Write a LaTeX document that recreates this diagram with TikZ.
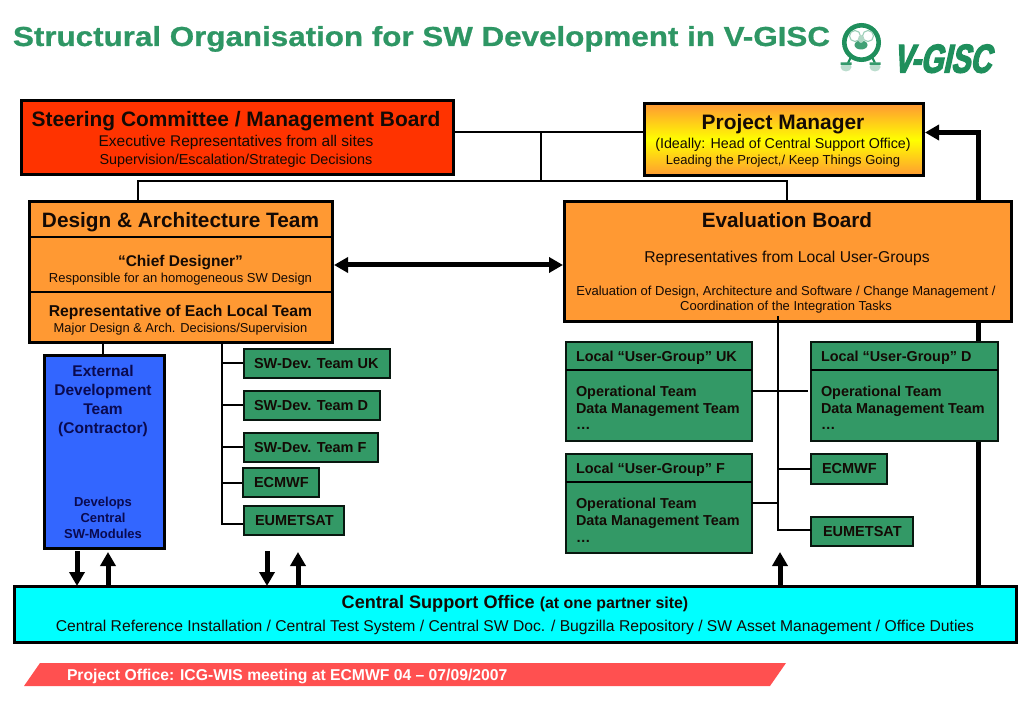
\documentclass[tikz,border=0pt]{standalone}
\usepackage{fontspec}
\setmainfont{Liberation Sans}
\newfontfamily\logofont[BoldFeatures={FakeBold=3.5,FakeSlant=0.22,FakeStretch=0.72}]{Liberation Sans}
\newfontfamily\titlefont[BoldFeatures={FakeBold=0.8}]{Liberation Sans}
\usetikzlibrary{arrows.meta,fit,backgrounds,shadings}
\definecolor{ttl}{HTML}{2E9664}
\definecolor{logog}{HTML}{1F8F5C}
\definecolor{orng}{HTML}{FF9933}
\definecolor{grn}{HTML}{339966}
\definecolor{redb}{HTML}{FF3300}
\definecolor{blu}{HTML}{3366FF}
\definecolor{navy}{HTML}{0A0A50}
\definecolor{banner}{HTML}{FF5050}
\definecolor{txt}{HTML}{140A05}
\definecolor{cyanb}{HTML}{00FFFF}
\definecolor{yell}{HTML}{FFFF00}
\newcommand{\fs}[1]{\fontsize{#1pt}{#1pt}\selectfont}
\tikzset{
  x=1pt,y=-1pt,
  box/.style={draw=black,line width=3pt,inner sep=0pt,outer sep=0pt,rectangle},
  obox/.style={box,fill=orng},
  gbox/.style={draw=black!85!grn,line width=2.2pt,inner sep=0pt,outer sep=0pt,rectangle,fill=grn},
  ct/.style={anchor=base,inner sep=0pt,outer sep=0pt,text=txt},
  lt/.style={anchor=base west,inner sep=0pt,outer sep=0pt,text=txt},
  thin conn/.style={draw=black,line width=1.4pt,line join=miter},
  mid conn/.style={draw=black,line width=2pt,line join=miter},
  thick conn/.style={draw=black,line width=5pt,line join=miter},
  fat arrow/.style={draw=black,line width=5pt,-{Triangle[length=14pt,width=15pt]}},
}
\begin{document}
\begin{tikzpicture}
\useasboundingbox (0,0) rectangle (1023,708);
% title
\node[lt,text=ttl,font=\fs{27.5}\titlefont\bfseries] (title) at (13,46) {\scalebox{1.14}[1]{Structural Organisation for SW Development in V-GISC}};
% logo
\node[anchor=base west,inner sep=0pt,text=logog,font=\fs{40}\logofont\bfseries] (logotext) at (893,72.5) {V-GISC};
\coordinate (logoc) at (861.5,42.5);
\draw[logog,line width=2.2pt] (851,57) -- (848,63) (872,57) -- (875,63);
\draw[logog,line width=4.6pt] (logoc) circle[radius=17.2pt];
\draw[logog!45,line width=1.1pt] (855,36) circle[radius=5.5pt] (868,36) circle[radius=5.5pt];
\fill[logog!85] (861,45) ellipse[x radius=6.5pt,y radius=4.5pt];
\fill[logog!35] (861,39) ellipse[x radius=3pt,y radius=4pt];
\fill[logog!30] (846,67) ellipse[x radius=5.5pt,y radius=4.5pt] (875,67) ellipse[x radius=5.5pt,y radius=4.5pt];
\fill[logog!90] (840.5,65) rectangle (851.5,62.5) (869.5,65) rectangle (880.5,62.5);
% boxes
\node[box,fill=redb,fit={(21,101)(453,175)}] (steer) {};
\node[box,top color=orng,bottom color=orng,middle color=yell,fit={(644,104)(923,176)}] (pm) {};
\node[obox,fit={(29,202)(332,343)}] (design) {};
\node[obox,fit={(564,202)(1011,322)}] (eval) {};
\node[box,fill=blu,fit={(44,356)(164,548)}] (ext) {};
\node[gbox,fit={(244,349)(390,378)}] (devuk) {};
\node[gbox,fit={(244,391)(380,420)}] (devd) {};
\node[gbox,fit={(244,433)(378,462)}] (devf) {};
\node[gbox,fit={(243,468)(319,497)}] (ecl) {};
\node[gbox,fit={(244,506)(344,535)}] (eul) {};
\node[gbox,fit={(566,342)(752,441)}] (luk) {};
\node[gbox,fit={(811,342)(998,441)}] (ld) {};
\node[gbox,fit={(566,454)(752,553)}] (lf) {};
\node[gbox,fit={(811,454)(887,484)}] (ecr) {};
\node[gbox,fit={(811,517)(913,546)}] (eur) {};
\node[box,fill=cyanb,fit={(14,586)(1016,642)}] (central) {};
% dividers
\draw[black,line width=2.5pt] (design.west |- 0,237) -- (design.east |- 0,237);
\draw[black,line width=2.5pt] (design.west |- 0,292) -- (design.east |- 0,292);
\draw[black,line width=2.5pt] (luk.west |- 0,370) -- (luk.east |- 0,370);
\draw[black,line width=2.5pt] (ld.west |- 0,370) -- (ld.east |- 0,370);
\draw[black,line width=2.5pt] (lf.west |- 0,482) -- (lf.east |- 0,482);
% banner
\fill[banner] (24,686) -- (40,663) -- (786,663) -- (770,686) -- cycle;
\node[lt,text=white,font=\fs{15.7}\bfseries] (bantext) at (67,680.5) {Project Office: ICG-WIS meeting at ECMWF 04 – 07/09/2007};
% junction coordinates
\coordinate (jsteer) at (541,132);
\coordinate (jtop) at (541,181);
\coordinate (jdl) at (138,181);
\coordinate (jdr) at (787,181);
\coordinate (jext) at (103,343);
\coordinate (jdev) at (222,524);
\coordinate (jev) at (778,316);
\coordinate (jevb) at (778,530);
\coordinate (jpm) at (978.5,132.5);
\coordinate (jdbl) at (0,265);
\coordinate (a1) at (77,551);
\coordinate (a2) at (108,552);
\coordinate (a3) at (267,551);
\coordinate (a4) at (298,552);
\coordinate (a5) at (780,552);
\coordinate (jlf) at (778,503);
\coordinate (jlu) at (808,391);
% connectors behind the boxes
\begin{pgfonlayer}{background}
\draw[thin conn] (steer.east |- jsteer) -- (pm.west |- jsteer);
\draw[thin conn] (jsteer) -- (jtop);
\draw[mid conn] (design.north -| jdl) -- (jdl) -- (jdr) -- (eval.north -| jdr);
\draw[mid conn] (jext) -- (ext.north -| jext);
\draw[mid conn] (design.south -| jdev) -- (jdev) -- (eul.west |- jdev);
\draw[mid conn] (jdev |- devuk) -- (devuk);
\draw[mid conn] (jdev |- devd) -- (devd);
\draw[mid conn] (jdev |- devf) -- (devf);
\draw[mid conn] (jdev |- ecl) -- (ecl);
\draw[thick conn] (central.north -| jpm) -- (jpm);
\end{pgfonlayer}
\draw[fat arrow,line join=miter] ([xshift=2.5pt]jpm) -- ([xshift=2pt]pm.east |- jpm);
\draw[draw=black,line width=5pt,{Triangle[length=14pt,width=15pt]}-{Triangle[length=14pt,width=15pt]}] ([xshift=2pt]design.east |- jdbl) -- ([xshift=-1pt]eval.west |- jdbl);
\draw[mid conn] (jev) -- (jevb) -- (eur.west |- jevb);
\draw[mid conn] (luk.east |- jlu) -- (jlu);
\draw[mid conn] (jev |- ecr) -- (ecr);
\draw[mid conn] (lf.east |- jlf) -- (jlf);
\draw[fat arrow] (a1) -- (central.north -| a1);
\draw[fat arrow] (central.north -| a2) -- (a2);
\draw[fat arrow] (a3) -- (central.north -| a3);
\draw[fat arrow] (central.north -| a4) -- (a4);
\draw[fat arrow] (central.north -| a5) -- (a5);
% steering
\node[ct,font=\fs{20.9}\bfseries] (s1) at (236,127) {Steering Committee / Management Board};
\node[ct,font=\fs{15.5}] (s2) at (236,147) {Executive Representatives from all sites};
\node[ct,font=\fs{14.4}] (s3) at (236,164.5) {Supervision/Escalation/Strategic Decisions};
% pm
\node[ct,font=\fs{20.9}\bfseries] (p1) at (783,130) {Project Manager};
\node[ct,font=\fs{14.3}] (p2) at (783,149) {(Ideally: Head of Central Support Office)};
\node[ct,font=\fs{13}] (p3) at (783,165) {Leading the Project,/ Keep Things Going};
% design
\node[ct,font=\fs{20.8}\bfseries] (d1) at (180.5,228) {Design \& Architecture Team};
\node[ct,font=\fs{15.5}\bfseries] (d2) at (180.5,266.5) {“Chief Designer”};
\node[ct,font=\fs{13}] (d3) at (180.5,283) {Responsible for an homogeneous SW Design};
\node[ct,font=\fs{15.7}\bfseries] (d4) at (180.5,317) {Representative of Each Local Team};
\node[ct,font=\fs{12.9}] (d5) at (180.5,333) {Major Design \& Arch. Decisions/Supervision};
% eval
\node[ct,font=\fs{20.7}\bfseries] (e1) at (787,228) {Evaluation Board};
\node[ct,font=\fs{15.7}] (e2) at (787,263) {Representatives from Local User-Groups};
\node[ct,font=\fs{13}] (e3) at (786,296) {Evaluation of Design, Architecture and Software / Change Management /};
\node[ct,font=\fs{13}] (e4) at (786,311) {Coordination of the Integration Tasks};
% external
\node[ct,text=navy,font=\fs{15.5}\bfseries] (x1) at (103,377) {External};
\node[ct,text=navy,font=\fs{15.5}\bfseries] (x2) at (103,396) {Development};
\node[ct,text=navy,font=\fs{15.5}\bfseries] (x3) at (103,415) {Team};
\node[ct,text=navy,font=\fs{15.5}\bfseries] (x4) at (103,434) {(Contractor)};
\node[ct,text=navy,font=\fs{13}\bfseries] (x5) at (103,506) {Develops};
\node[ct,text=navy,font=\fs{13}\bfseries] (x6) at (103,522) {Central};
\node[ct,text=navy,font=\fs{13}\bfseries] (x7) at (103,538) {SW-Modules};
% dev teams
\node[lt,font=\fs{14.5}\bfseries] (t1) at (254,368.5) {SW-Dev. Team UK};
\node[lt,font=\fs{14.5}\bfseries] (t2) at (254,410.5) {SW-Dev. Team D};
\node[lt,font=\fs{14.5}\bfseries] (t3) at (254,452.5) {SW-Dev. Team F};
\node[lt,font=\fs{14.5}\bfseries] (t4) at (254,487.5) {ECMWF};
\node[lt,font=\fs{14.5}\bfseries] (t5) at (255,525.5) {EUMETSAT};
% local groups
\node[lt,font=\fs{14.4}\bfseries] (u1) at (576,361.5) {Local “User-Group” UK};
\node[lt,font=\fs{14.4}\bfseries] (u2) at (576,396.5) {Operational Team};
\node[lt,font=\fs{14.4}\bfseries] (u3) at (576,413.5) {Data Management Team};
\node[lt,font=\fs{14.4}\bfseries] (u4) at (576,430) {…};
\node[lt,font=\fs{14.4}\bfseries] (v1) at (821,361.5) {Local “User-Group” D};
\node[lt,font=\fs{14.4}\bfseries] (v2) at (821,396.5) {Operational Team};
\node[lt,font=\fs{14.4}\bfseries] (v3) at (821,413.5) {Data Management Team};
\node[lt,font=\fs{14.4}\bfseries] (v4) at (821,430) {…};
\node[lt,font=\fs{14.4}\bfseries] (w1) at (576,473.5) {Local “User-Group” F};
\node[lt,font=\fs{14.4}\bfseries] (w2) at (576,508.5) {Operational Team};
\node[lt,font=\fs{14.4}\bfseries] (w3) at (576,525.5) {Data Management Team};
\node[lt,font=\fs{14.4}\bfseries] (w4) at (576,542) {…};
\node[lt,font=\fs{14.5}\bfseries] (r1) at (822,473.5) {ECMWF};
\node[lt,font=\fs{14.5}\bfseries] (r2) at (823,536.5) {EUMETSAT};
% central
\node[ct,font=\fs{18.1}\bfseries] (c1) at (515,608.5) {Central Support Office {\fs{15.9}(at one partner site)}};
\node[ct,font=\fs{15.67}] (c2) at (515,631) {Central Reference Installation / Central Test System / Central SW Doc. / Bugzilla Repository / SW Asset Management / Office Duties};
\end{tikzpicture}
\end{document}
